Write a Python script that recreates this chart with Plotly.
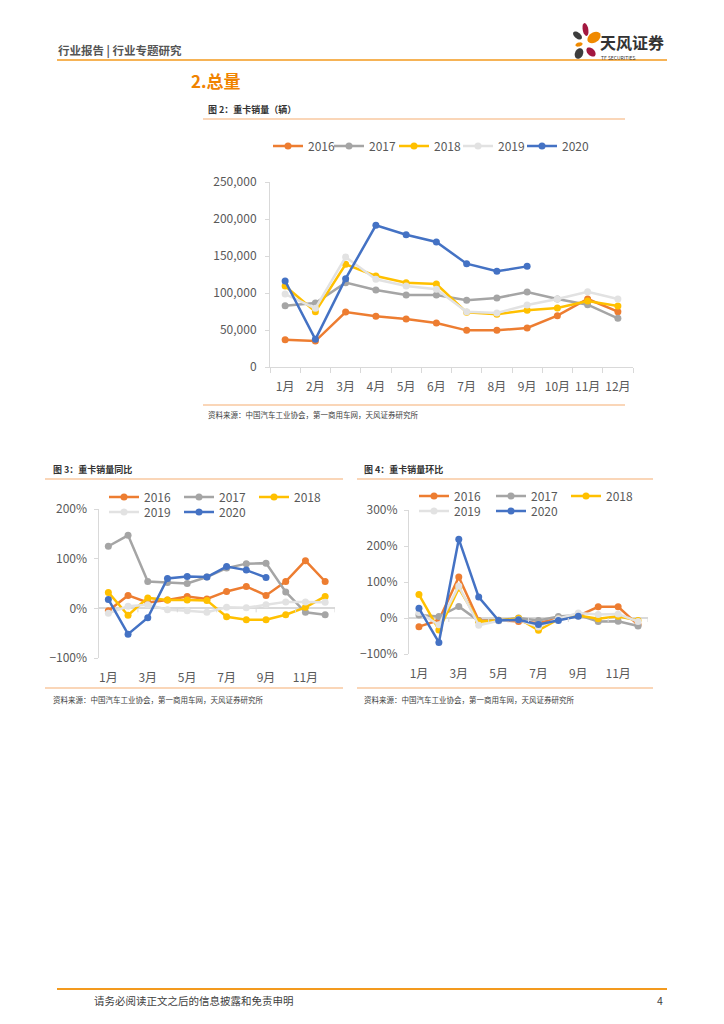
import math
import plotly.graph_objects as go

W, H = 724, 1024


def px(x):
    return x / W


def py(y):
    return 1 - y / H


# ---------------- data ----------------
months = ["1月", "2月", "3月", "4月", "5月", "6月", "7月", "8月", "9月", "10月", "11月", "12月"]
month_nums = [1, 2, 3, 4, 5, 6, 7, 8, 9, 10, 11, 12]
odd_ticks = [1, 3, 5, 7, 9, 11]
odd_labels = ["1月", "3月", "5月", "7月", "9月", "11月"]
minor_bounds = [2.5, 4.5, 6.5, 8.5, 10.5, 12.5]
years = ["2016", "2017", "2018", "2019", "2020"]
colors = ["#ED7D31", "#A5A5A5", "#FFC000", "#E2E2E2", "#4472C4"]

sales_2016 = [36900, 35100, 74300, 68500, 64900, 59500, 49500, 49500, 52700, 69400, 91900, 74800]
sales_2017 = [82900, 86500, 114000, 104100, 97300, 97300, 90100, 93200, 101400, 91900, 84200, 65800]
sales_2018 = [109500, 74800, 138700, 123000, 114000, 112200, 73900, 71200, 76600, 79700, 89200, 82400]
sales_2019 = [98600, 79300, 148600, 118500, 109500, 105000, 74800, 73000, 83800, 91900, 101800, 91900]
sales_2020 = [116200, 37400, 119400, 191400, 178800, 168900, 139600, 129300, 136000]

yoy_2016 = [-5, 26, 12, 17, 24, 19, 34, 44, 26, 54, 96, 54]
yoy_2017 = [125, 147, 54, 52, 50, 63, 81, 90, 91, 33, -8, -13]
yoy_2018 = [32, -14, 21, 17, 17, 16, -17, -23, -23, -13, 2, 24]
yoy_2019 = [-10, 4, 7, -3, -5, -8, 2, 1, 7, 13, 13, 12]
yoy_2020 = [18, -52, -19, 60, 64, 63, 84, 77, 62]

mom_2016 = [-24, -6, 114, -7, -6, -10, -14, -1, 6, 31, 31, -19]
mom_2017 = [8, 4, 32, -8, -6, 0, -7, 4, 8, -10, -9, -22]
mom_2018 = [65, -33, 83, -10, -7, -1, -34, -3, 7, -2, 5, -7]
mom_2019 = [15, -19, 89, -20, -8, -5, -25, -2, 14, 10, 11, -10]
mom_2020 = [27, -68, 219, 58, -7, -5, -18, -7, 5]

sales = [sales_2016, sales_2017, sales_2018, sales_2019, sales_2020]
yoy = [yoy_2016, yoy_2017, yoy_2018, yoy_2019, yoy_2020]
mom = [mom_2016, mom_2017, mom_2018, mom_2019, mom_2020]

FONT = "Noto Sans CJK SC, Noto Sans, sans-serif"
TICK = "#595959"
AX = "#D9D9D9"

# legend item positions (line start x, row centre y) per chart
leg1_pos = [(274, 146), (335, 146), (400, 146), (464, 146), (528, 146)]
leg3_pos = [(110, 497), (185, 497), (260, 497), (110, 512), (185, 512)]
leg4_pos = [(420, 496), (497, 496), (572, 496), (420, 511), (497, 511)]

fig = go.Figure()
legend_layouts = {}
leg_counter = [0]


def new_legend(pos):
    leg_counter[0] += 1
    n = leg_counter[0]
    key = "legend" if n == 1 else f"legend{n}"
    legend_layouts[key] = dict(
        orientation="h", x=px(pos[0] - 6), y=py(pos[1]), xanchor="left", yanchor="middle",
        font=dict(family=FONT, size=12, color=TICK), bgcolor="rgba(0,0,0,0)",
        borderwidth=0, itemclick=False, itemdoubleclick=False, visible=True)
    return key


def add_series(xs, vals_list, xa, ya, positions):
    for i, yr in enumerate(years):
        vals = vals_list[i]
        fig.add_trace(go.Scatter(
            x=xs[:len(vals)], y=vals, name=yr, mode="lines+markers", showlegend=True,
            line=dict(color=colors[i], width=2.5), marker=dict(color=colors[i], size=7),
            xaxis=xa, yaxis=ya, legend=new_legend(positions[i]), hoverinfo="skip"))


add_series(months, sales, "x", "y", leg1_pos)
add_series(month_nums, yoy, "x2", "y2", leg3_pos)
add_series(month_nums, mom, "x3", "y3", leg4_pos)

tickfont = dict(family=FONT, size=12, color=TICK)

layout = dict(
    width=W, height=H, margin=dict(l=0, r=0, t=0, b=0, autoexpand=False),
    paper_bgcolor="white", plot_bgcolor="white", showlegend=True,
    font=dict(family=FONT, color=TICK),
    xaxis=dict(domain=[px(270), px(633)], type="category", range=[-0.5, 11.5],
               showline=True, linecolor=AX, linewidth=1, ticks="outside", tickson="boundaries",
               ticklen=5, tickcolor=AX, showgrid=False, zeroline=False, tickfont=tickfont,
               tickangle=0, ticklabelstandoff=9, fixedrange=True),
    yaxis=dict(domain=[py(367), py(182)], range=[0, 250000], dtick=50000, tickformat=",d",
               showline=True, linecolor=AX, linewidth=1, ticks="outside", ticklen=4, tickcolor=AX,
               showgrid=False, zeroline=False, tickfont=tickfont, ticklabelstandoff=6, fixedrange=True),
    xaxis2=dict(domain=[px(98.5), px(335)], range=[0.5, 12.5], tickvals=odd_ticks, ticktext=odd_labels,
                showline=False, ticks="", showgrid=False, zeroline=False, tickfont=tickfont,
                tickangle=0, ticklabelstandoff=11, anchor="y2", fixedrange=True),
    yaxis2=dict(domain=[py(658), py(509)], range=[-100, 200], dtick=100, ticksuffix="%",
                showline=True, linecolor=AX, linewidth=1, ticks="outside", ticklen=4, tickcolor=AX,
                showgrid=False, zeroline=True, zerolinecolor=AX, zerolinewidth=1.5,
                tickfont=tickfont, ticklabelstandoff=4, anchor="x2", fixedrange=True),
    xaxis3=dict(domain=[px(409), px(648)], range=[0.5, 12.5], tickvals=odd_ticks, ticktext=odd_labels,
                showline=False, ticks="", showgrid=False, zeroline=False, tickfont=tickfont,
                tickangle=0, ticklabelstandoff=11, anchor="y3", fixedrange=True),
    yaxis3=dict(domain=[py(654), py(510)], range=[-100, 300], dtick=100, ticksuffix="%",
                showline=True, linecolor=AX, linewidth=1, ticks="outside", ticklen=4, tickcolor=AX,
                showgrid=False, zeroline=True, zerolinecolor=AX, zerolinewidth=1.5,
                tickfont=tickfont, ticklabelstandoff=4, anchor="x3", fixedrange=True),
)
layout.update(legend_layouts)
fig.update_layout(**layout)

# ---------------- page decorations ----------------
shapes = []


def hline(x0, x1, y, color, width):
    shapes.append(dict(type="line", xref="paper", yref="paper", x0=px(x0), x1=px(x1),
                       y0=py(y), y1=py(y), line=dict(color=color, width=width)))


ORANGE = "#F39A1E"
PEACH = "#F8C9A0"
hline(57, 667, 60, ORANGE, 1.5)
hline(203, 625, 119, PEACH, 1.5)
hline(203, 625, 405, PEACH, 1.5)
hline(45, 343, 479, PEACH, 1.5)
hline(45, 343, 688, PEACH, 1.5)
hline(357, 653, 479, PEACH, 1.5)
hline(357, 653, 688, PEACH, 1.5)
hline(57, 667, 989, ORANGE, 2)

# small tick marks on the zero lines of the two percentage charts
for xa, ya in (("x2", "y2"), ("x3", "y3")):
    for b in minor_bounds:
        shapes.append(dict(type="line", xref=xa, yref=ya, x0=b, x1=b, ysizemode="pixel",
                           yanchor=0, y0=0, y1=-4, line=dict(color=AX, width=1)))


def petal(cx, cy, rx, ry, ang, color):
    a = math.radians(ang)
    pts = []
    for k in range(24):
        t = 2 * math.pi * k / 24
        ex, ey = rx * math.cos(t), ry * math.sin(t)
        x = cx + ex * math.cos(a) - ey * math.sin(a)
        y = cy + ex * math.sin(a) + ey * math.cos(a)
        pts.append(f"{px(x):.5f},{py(y):.5f}")
    path = "M" + " L".join(pts) + " Z"
    shapes.append(dict(type="path", xref="paper", yref="paper", path=path,
                       fillcolor=color, line=dict(width=0)))


DARK = "#3D3D3D"
RED = "#A3173F"
LOGO_OR = "#F08A00"
petal(577.5, 35.5, 5.2, 3.0, 40, DARK)
petal(585.5, 29.5, 6.5, 2.8, 80, RED)
petal(594.0, 37.5, 7.2, 5.0, -35, LOGO_OR)
petal(579.0, 44.5, 3.6, 2.0, -15, LOGO_OR)
petal(579.0, 53.5, 5.5, 4.0, -65, DARK)
petal(591.0, 52.0, 5.5, 3.5, 45, RED)

annotations = []


def text(x, y, s, size, color, bold=False, anchor="left"):
    annotations.append(dict(xref="paper", yref="paper", x=px(x), y=py(y), text=f"<b>{s}</b>" if bold else s,
                            showarrow=False, xanchor=anchor, yanchor="middle",
                            font=dict(family=FONT, size=size, color=color)))


text(56, 50, "行业报告 | 行业专题研究", 11.5, "#555555", bold=True)
text(598, 41.5, "天风证券", 16, "#333333", bold=True)
text(599, 57.5, "TF SECURITIES", 5, "#333333")
text(189, 80, "2.总量", 17, "#F08300", bold=True)
text(206, 109, "图 2：重卡销量（辆）", 9, "#333333", bold=True)
text(206, 414, "资料来源：中国汽车工业协会，第一商用车网，天风证券研究所", 7.5, "#404040")
text(51, 469, "图 3：重卡销量同比", 9, "#333333", bold=True)
text(51, 699, "资料来源：中国汽车工业协会，第一商用车网，天风证券研究所", 7.5, "#404040")
text(362, 469, "图 4：重卡销量环比", 9, "#333333", bold=True)
text(362, 699, "资料来源：中国汽车工业协会，第一商用车网，天风证券研究所", 7.5, "#404040")
text(92, 1000, "请务必阅读正文之后的信息披露和免责申明", 10.5, "#404040")
text(665, 1000, "4", 10.5, "#404040", anchor="right")

fig.update_layout(shapes=shapes, annotations=annotations)

fig.write_html("out.html", config={"displayModeBar": False},
               post_script="document.body.style.margin='0';document.body.style.overflow='hidden';")
